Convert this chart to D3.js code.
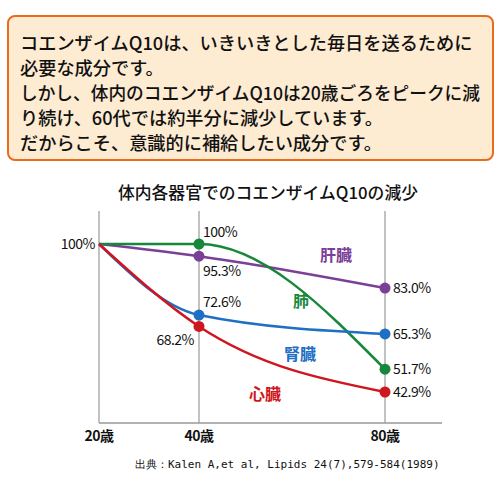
<!DOCTYPE html>
<html>
<head>
<meta charset="utf-8">
<script src="https://cdn.jsdelivr.net/npm/d3@7"></script>
<style>
  body { margin: 0; background: #fff; }
  svg { display: block; }
  text { font-family: "Noto Sans CJK JP", "Noto Sans", sans-serif; fill: #111; }
</style>
</head>
<body>
<div id="chart"></div>
<script>
  // 説明文
  var introLines = [
    'コエンザイムQ10は、いきいきとした毎日を送るために',
    '必要な成分です。',
    'しかし、体内のコエンザイムQ10は20歳ごろをピークに減',
    'り続け、60代では約半分に減少しています。',
    'だからこそ、意識的に補給したい成分です。'
  ];
  var title = '体内各器官でのコエンザイムQ10の減少';
  var source = '出典：Kalen A,et al, Lipids 24(7),579-584(1989)';

  var ages = [20, 40, 80];
  var ageLabels = ['20歳', '40歳', '80歳'];

  var organs = ['肝臓', '肺', '腎臓', '心臓'];
  var organColors = ['#7b3f98', '#17873a', '#1f6fc4', '#cf1620'];
  var liver = [100, 95.3, 83.0];
  var lung = [100, 100, 51.7];
  var kidney = [100, 72.6, 65.3];
  var heart = [100, 68.2, 42.9];

  var series = [
    { name: organs[0], color: organColors[0], values: liver },
    { name: organs[1], color: organColors[1], values: lung },
    { name: organs[2], color: organColors[2], values: kidney },
    { name: organs[3], color: organColors[3], values: heart }
  ];

  var W = 500, H = 500;
  var svg = d3.select('#chart').append('svg').attr('width', W).attr('height', H);

  // --- text box
  svg.append('rect').attr('x', 8).attr('y', 16).attr('width', 485).attr('height', 144)
    .attr('rx', 7).attr('ry', 7)
    .style('fill', '#fdebd2').style('stroke', '#ea6a1e').style('stroke-width', 2);
  svg.append('g').selectAll('text').data(introLines).enter().append('text')
    .attr('x', 20).attr('y', function(d, i) { return 49.5 + i * 25.2; })
    .style('font-size', '18.2px').style('font-weight', 500)
    .text(function(d) { return d; })
    .each(function() {
      // 長い行は枠内に収める
      if (this.getComputedTextLength() > 460) {
        d3.select(this).attr('textLength', 460).attr('lengthAdjust', 'spacingAndGlyphs');
      }
    });

  // --- chart
  var x = d3.scaleLinear().domain(ages).range([99, 199, 385]);
  var y = d3.scaleLinear().domain([100, 42.9]).range([244, 392]);
  var plotTop = 211, plotBottom = 423;

  svg.append('text').attr('x', 268).attr('y', 199).attr('text-anchor', 'middle')
    .style('font-size', '16.8px').style('font-weight', 500).text(title);

  var grid = svg.append('g');
  grid.selectAll('line').data(ages).enter().append('line')
    .attr('x1', function(d) { return x(d); }).attr('x2', function(d) { return x(d); })
    .attr('y1', plotTop).attr('y2', plotBottom)
    .style('stroke', '#999').style('stroke-width', 1.2);
  grid.append('line').attr('x1', x(20)).attr('x2', 442).attr('y1', plotBottom).attr('y2', plotBottom)
    .style('stroke', '#999').style('stroke-width', 1.5);

  svg.append('g').selectAll('text').data(ages).enter().append('text')
    .attr('x', function(d) { return x(d); }).attr('y', 441).attr('text-anchor', 'middle')
    .style('font-size', '14px').style('font-weight', 700).style('letter-spacing', '-0.5px')
    .text(function(d, i) { return ageLabels[i]; });

  svg.append('text').attr('x', x(20) - 4).attr('y', y(100) + 5).attr('text-anchor', 'end')
    .style('font-size', '14px').style('letter-spacing', '-0.5px').text('100%');

  var line = d3.line()
    .x(function(d, i) { return x(ages[i]); })
    .y(function(d) { return y(d); })
    .curve(d3.curveMonotoneX);

  var g = svg.append('g').selectAll('g').data(series).enter().append('g');
  g.append('path').attr('d', function(d) { return line(d.values); })
    .style('fill', 'none').style('stroke', function(d) { return d.color; }).style('stroke-width', 2.5);
  g.selectAll('circle').data(function(d) {
    return d.values.slice(1).map(function(v, i) { return { v: v, a: ages[i + 1], c: d.color }; });
  }).enter().append('circle')
    .attr('cx', function(d) { return x(d.a); }).attr('cy', function(d) { return y(d.v); })
    .attr('r', 5.5).style('fill', function(d) { return d.c; });

  // value labels: [series index, age index, dx, dy, anchor]
  var valuePlaces = [
    [1, 1, 4, -7, 'start'], [0, 1, 4, 20, 'start'], [2, 1, 4, -8, 'start'], [3, 1, -5, 19, 'end'],
    [0, 2, 8, 5, 'start'], [2, 2, 8, 5, 'start'], [1, 2, 8, 5, 'start'], [3, 2, 8, 5, 'start']
  ];
  svg.append('g').selectAll('text').data(valuePlaces).enter().append('text')
    .attr('x', function(d) { return x(ages[d[1]]) + d[2]; })
    .attr('y', function(d) { return y(series[d[0]].values[d[1]]) + d[3]; })
    .attr('text-anchor', function(d) { return d[4]; })
    .style('font-size', '14px').style('letter-spacing', '-0.5px')
    .text(function(d) { return series[d[0]].values[d[1]].toFixed(1).replace('100.0', '100') + '%'; });

  // organ names
  var namePlaces = [[336, 261], [301, 307], [300, 360], [265, 400]];
  svg.append('g').selectAll('text').data(series).enter().append('text')
    .attr('x', function(d, i) { return namePlaces[i][0]; })
    .attr('y', function(d, i) { return namePlaces[i][1]; })
    .attr('text-anchor', 'middle')
    .style('font-size', '16px').style('font-weight', 700)
    .style('fill', function(d) { return d.color; })
    .text(function(d) { return d.name; });

  svg.append('text').attr('x', 135).attr('y', 468)
    .style('font-family', '"DejaVu Sans Mono", monospace').style('font-size', '11px')
    .text(source);
</script>
</body>
</html>
